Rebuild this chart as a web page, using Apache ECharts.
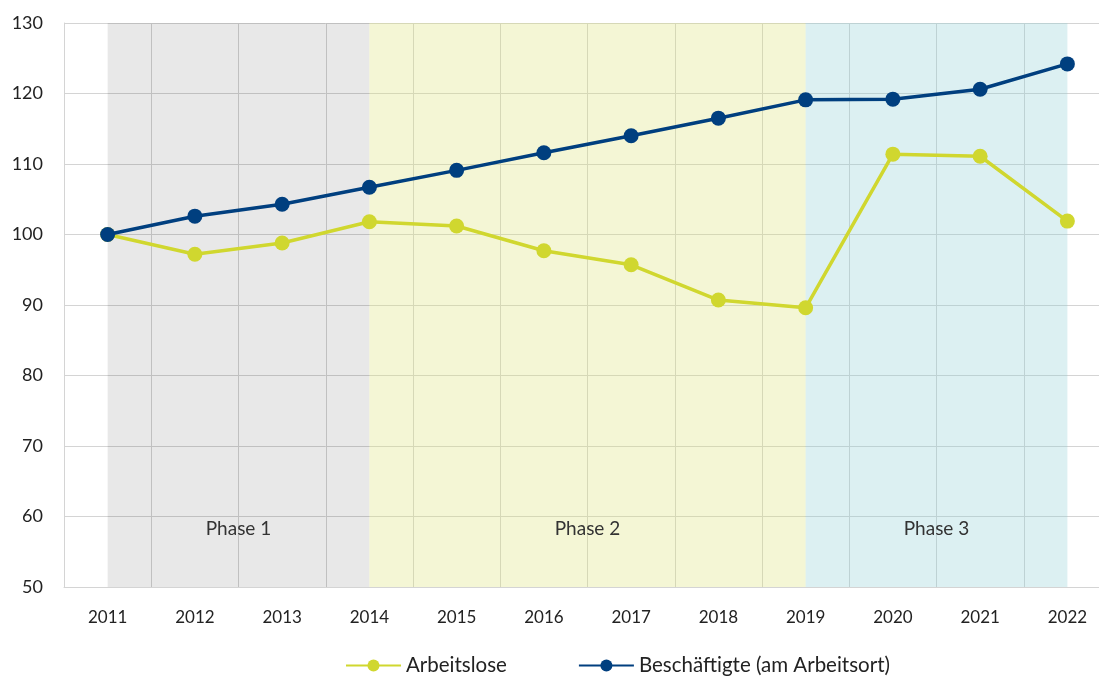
<!DOCTYPE html>
<html>
<head>
<meta charset="utf-8">
<script src="https://cdn.jsdelivr.net/npm/echarts@6/dist/echarts.min.js"></script>
<style>
  html, body { margin: 0; padding: 0; background: #fff; overflow: hidden; }
  #chart { width: 1111px; height: 677px; }
</style>
</head>
<body>
<div id="chart"></div>
<script>
var years = ['2011', '2012', '2013', '2014', '2015', '2016', '2017', '2018', '2019', '2020', '2021', '2022'];
var arbeitslose = [100, 97.2, 98.8, 101.8, 101.2, 97.7, 95.7, 90.7, 89.6, 111.4, 111.1, 101.9];
var beschaeftigte = [100, 102.6, 104.3, 106.7, 109.1, 111.6, 114.0, 116.5, 119.1, 119.2, 120.6, 124.2];
// translucent fills so the grid lines show through the phase bands
var phases = [
  { name: 'Phase 1', from: '2011', to: '2014', color: 'rgba(0,0,0,0.09)' },
  { name: 'Phase 2', from: '2014', to: '2019', color: 'rgba(218,225,115,0.3)' },
  { name: 'Phase 3', from: '2019', to: '2022', color: 'rgba(138,205,212,0.3)' }
];

var font = 'Lato';
var chart = echarts.init(document.getElementById('chart'));

var option = {
  animation: false,
  textStyle: { fontFamily: font },
  grid: { left: 64, right: 0, top: 23, bottom: 90, containLabel: false },
  legend: {
    left: 340,
    top: 650,
    itemGap: 71,
    itemWidth: 55,
    itemHeight: 15,
    textStyle: { fontSize: 20.5, color: '#222', fontFamily: font },
    data: ['Arbeitslose', 'Beschäftigte (am Arbeitsort)']
  },
  xAxis: {
    type: 'category',
    data: years,
    boundaryGap: true,
    axisLine: { show: true, lineStyle: { color: '#d4d4d4', width: 1 } },
    axisTick: { show: false },
    axisLabel: { fontSize: 17, color: '#222', margin: 22 },
    splitLine: { show: true, lineStyle: { color: '#d4d4d4', width: 1 } }
  },
  yAxis: {
    type: 'value',
    min: 50,
    max: 130,
    interval: 10,
    axisLine: { show: true, lineStyle: { color: '#d4d4d4', width: 1 } },
    axisTick: { show: false },
    axisLabel: { fontSize: 18, color: '#222', margin: 21, align: 'right' },
    splitLine: { show: true, lineStyle: { color: '#d4d4d4', width: 1 } }
  },
  series: [
    {
      name: 'Arbeitslose',
      type: 'line',
      data: arbeitslose,
      symbol: 'circle',
      symbolSize: 15,
      z: 3,
      lineStyle: { color: '#d0d72f', width: 3.5 },
      itemStyle: { color: '#d0d72f' },
      markArea: {
        silent: true,
        data: phases.map(function (p) {
          return [
            { xAxis: p.from, yAxis: 50, name: p.name, itemStyle: { color: p.color } },
            { xAxis: p.to, yAxis: 130 }
          ];
        }),
        label: {
          show: true,
          position: 'insideBottom',
          distance: 49,
          fontSize: 19,
          color: '#333',
          fontFamily: font
        }
      }
    },
    {
      name: 'Beschäftigte (am Arbeitsort)',
      type: 'line',
      data: beschaeftigte,
      symbol: 'circle',
      symbolSize: 15,
      z: 4,
      lineStyle: { color: '#003f7f', width: 3.5 },
      itemStyle: { color: '#003f7f' }
    }
  ]
};

chart.setOption(option);
</script>
</body>
</html>
